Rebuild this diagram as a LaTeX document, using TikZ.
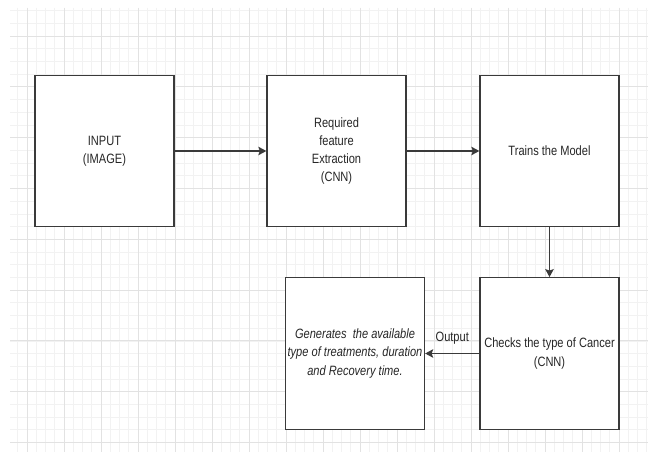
\documentclass[tikz,border=0pt]{standalone}
\usepackage{fontspec}
\setmainfont[FakeStretch=0.82]{Liberation Sans}
\usepackage{tikz}
\usetikzlibrary{arrows.meta}
\definecolor{boxline}{HTML}{3A3A3A}
\definecolor{gridminor}{HTML}{F2F2F2}
\definecolor{gridmajor}{HTML}{E2E2E2}

\begin{document}
\begin{tikzpicture}[x=1pt,y=-1pt]
\tikzstyle{box}=[draw=boxline,line width=1.3pt,fill=white,minimum width=139pt,minimum height=151.5pt,inner sep=1pt,align=center,text=black!85,font=\fontsize{13.5}{18.3}\selectfont]
\tikzstyle{link}=[draw=boxline,line width=1.3pt,-{Stealth[length=8pt,width=8.5pt,inset=1.5pt]}]
\useasboundingbox (0,0) rectangle (648,452);
\fill[white] (0,0) rectangle (648,452);
\begin{scope}
\clip (10,8) rectangle (648,452);
\foreach \i in {0,...,69}
	\draw[gridminor,line width=0.6pt] ({17.75+9.25*\i},8) -- ({17.75+9.25*\i},452);
\foreach \j in {0,...,35}
	\draw[gridminor,line width=0.6pt] (10,{10.6+12.7*\j}) -- (648,{10.6+12.7*\j});
\foreach \i in {0,...,17}
	\draw[gridmajor,line width=0.9pt] ({27+37*\i},8) -- ({27+37*\i},452);
\foreach \j in {0,...,8}
	\draw[gridmajor,line width=0.9pt] (10,{36+50.8*\j}) -- (648,{36+50.8*\j});
\end{scope}
\foreach \name/\point/\label in {
	input/{104.5,151}/{INPUT\\(IMAGE)},
	extract/{336.5,151}/{Required\\feature\\Extraction\\(CNN)},
	train/{549.5,151}/{Trains the Model},
	check/{549.5,353.5}/{Checks the type of Cancer\\(CNN)}}
	\node[box] (\name) at (\point) {\label};
\node[box] (result) at (355,353.5) {\itshape Generates~ the available\\\itshape type of treatments, duration\\\itshape and Recovery time.};
\draw[link] (input) -- (extract);
\draw[link] (extract) -- (train);
\draw[link] (train) -- (check);
\draw[link] (check) -- (result) node[midway,above=5pt,text=black!85,font=\fontsize{13.5}{16}\selectfont] {Output};
\end{tikzpicture}
\end{document}
